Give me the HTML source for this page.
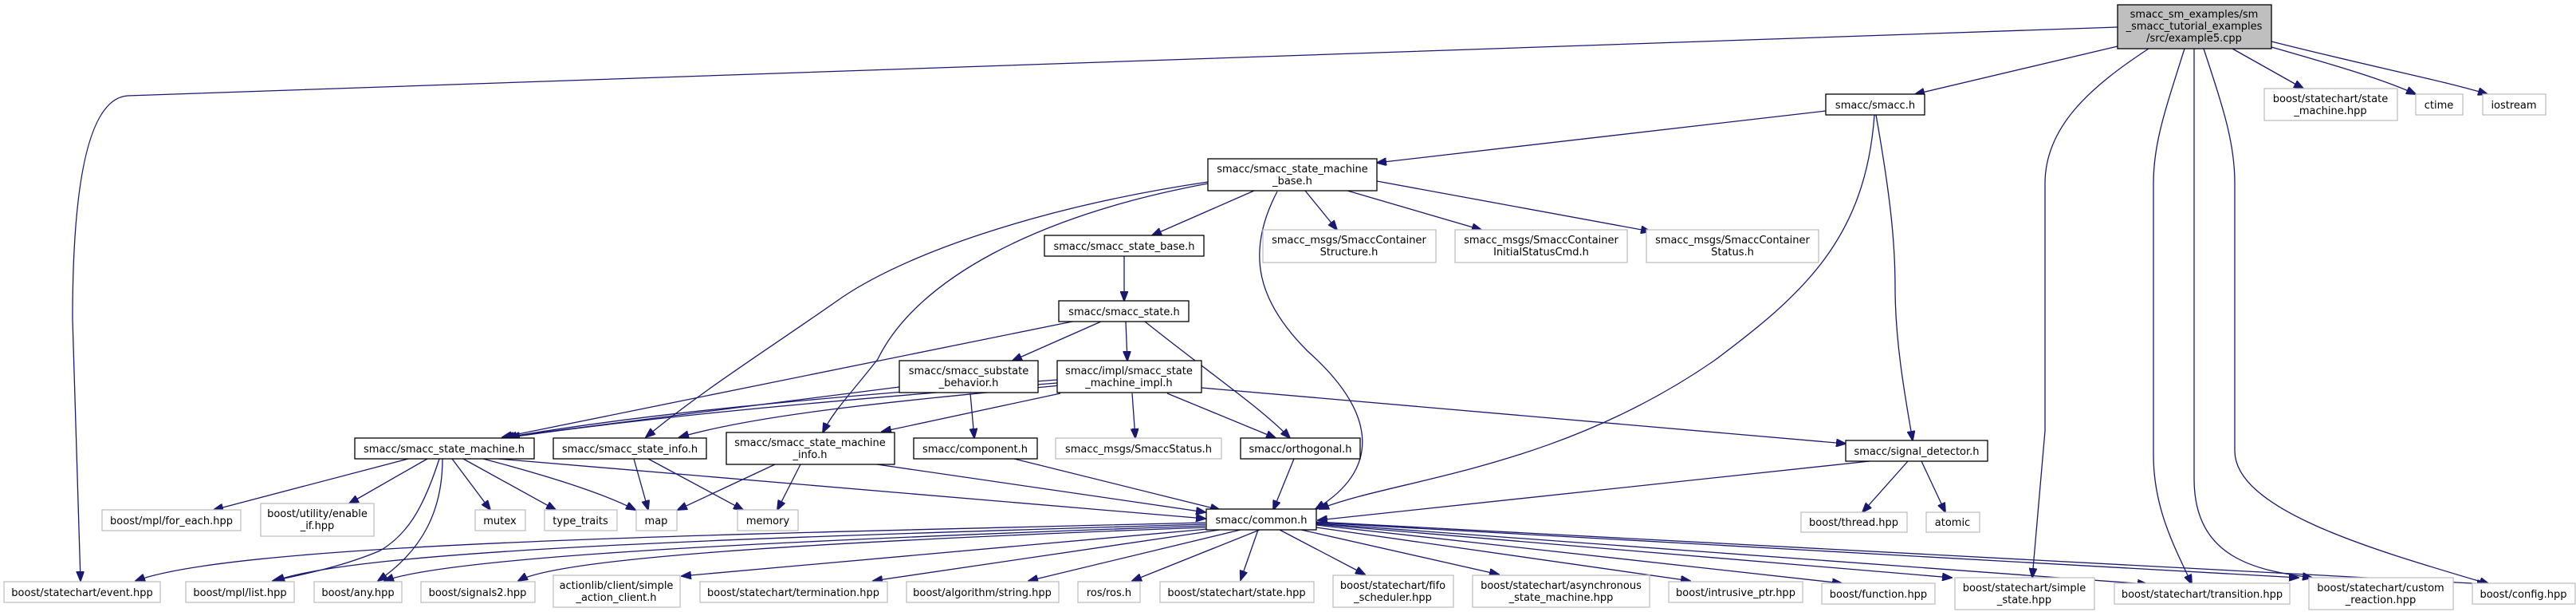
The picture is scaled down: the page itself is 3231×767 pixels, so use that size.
<!DOCTYPE html>
<html><head><meta charset="utf-8"><style>
html,body{margin:0;padding:0;background:#fff;}
svg{display:block}
text{font-family:"DejaVu Sans","Liberation Sans",sans-serif;font-size:13px;fill:#000;}
</style></head><body>
<svg width="3231" height="767" viewBox="0 0 3231 767" xmlns="http://www.w3.org/2000/svg">
<defs>
<marker id="a" markerWidth="13" markerHeight="10" refX="12" refY="5" orient="auto" markerUnits="userSpaceOnUse">
<path d="M0,0 L13,5 L0,10 z" fill="#191970" stroke="#191970"/>
</marker>
</defs>
<g fill="none" stroke="#191970" stroke-width="1.3" marker-end="url(#a)">
<!-- root -->
<path d="M2656,34 L160,120 Q91,125 91,400 L101,728"/>
<path d="M2656,58 L2402,118"/>
<path d="M2695,61 C2620,110 2565,160 2565,230 L2565,540 L2549,724"/>
<path d="M2740,61 C2715,140 2701,180 2701,230 L2701,570 C2701,640 2730,690 2749,732"/>
<path d="M2752,61 L2752,600 C2752,700 2830,715 2900,724"/>
<path d="M2764,61 C2790,140 2803,180 2803,230 L2803,565 C2803,640 2980,690 3122,732"/>
<path d="M2800,61 L2889,111"/>
<path d="M2849,59 C2940,85 2990,100 3030,118"/>
<path d="M2849,52 C2980,85 3060,100 3120,118"/>
<!-- smacc.h -->
<path d="M2290,139 L1727,204"/>
<path d="M2351,144 C2340,300 2260,370 2150,452 C1950,590 1750,600 1655,638"/>
<path d="M2353,144 C2370,240 2377,300 2377,360 C2377,430 2390,500 2399,552"/>
<!-- signal_detector -->
<path d="M2345,578 L1653,652"/>
<path d="M2393,578 L2336,642"/>
<path d="M2410,578 L2440,642"/>
<!-- state_machine_base -->
<path d="M1573,239 L1445,295"/>
<path d="M1637,239 L1677,288"/>
<path d="M1690,239 L1858,288"/>
<path d="M1727,227 L2070,290"/>
<path d="M1602,240 C1560,320 1580,380 1640,440 C1730,520 1730,590 1650,638"/>
<path d="M1515,228 C1300,260 1130,320 1050,377 C960,440 880,490 810,548"/>
<path d="M1515,230 C1300,270 1150,350 1101,450 C1070,490 1045,515 1032,542"/>
<!-- state_base -->
<path d="M1410,321 L1410,377"/>
<!-- smacc_state -->
<path d="M1345,403 L630,548"/>
<path d="M1381,403 L1270,452"/>
<path d="M1412,403 L1414,452"/>
<path d="M1436,403 C1520,470 1580,510 1618,549"/>
<!-- substate -->
<path d="M1128,485 L632,548"/>
<path d="M1217,493 L1222,549"/>
<!-- impl -->
<path d="M1326,476 C1000,500 800,520 636,548"/>
<path d="M1326,480 C1000,505 800,525 640,548"/>
<path d="M1330,483 C1100,505 950,520 852,548"/>
<path d="M1330,493 L1106,541"/>
<path d="M1420,493 L1424,549"/>
<path d="M1464,493 L1600,549"/>
<path d="M1507,486 L2315,556"/>
<!-- state_machine.h -->
<path d="M512,575 L268,639"/>
<path d="M536,575 L438,631"/>
<path d="M551,575 C530,640 510,670 477,690 C430,710 380,720 342,728"/>
<path d="M555,575 C555,640 530,690 474,728"/>
<path d="M567,575 L615,639"/>
<path d="M581,575 L697,639"/>
<path d="M606,575 C700,600 760,620 797,639"/>
<path d="M625,575 L1512,650"/>
<!-- state_info -->
<path d="M795,575 L813,639"/>
<path d="M813,575 L932,639"/>
<!-- state_machine_info -->
<path d="M972,582 L850,639"/>
<path d="M1004,582 L975,639"/>
<path d="M1100,582 L1512,642"/>
<!-- component / orthogonal -->
<path d="M1272,575 L1530,639"/>
<path d="M1623,575 L1597,639"/>
<!-- common.h -> bottom -->
<path d="M1512,655 C900,670 300,680 170,728"/>
<path d="M1512,657 C900,675 450,690 345,728"/>
<path d="M1512,659 C900,680 560,700 482,728"/>
<path d="M1512,661 C1000,680 700,700 650,728"/>
<path d="M1515,663 L855,722"/>
<path d="M1530,664 L1095,728"/>
<path d="M1556,664 L1290,728"/>
<path d="M1580,664 L1420,728"/>
<path d="M1578,664 L1556,727"/>
<path d="M1605,664 L1712,720"/>
<path d="M1632,664 L1880,720"/>
<path d="M1651,661 L2120,728"/>
<path d="M1651,658 L2310,731"/>
<path d="M1651,657 L2448,724"/>
<path d="M1651,656 L2693,732"/>
<path d="M1651,655 L2883,724"/>
<path d="M1651,654 L3119,732"/>
</g>
<g stroke-width="1.3">
<!-- node boxes -->
<rect x="2656" y="6" width="193" height="55" fill="#bfbfbf" stroke="#000"/>
<g fill="#fff" stroke="#000">
<rect x="2290" y="118" width="124" height="26"/>
<rect x="1515" y="199" width="212" height="40"/>
<rect x="1310" y="295" width="200" height="26"/>
<rect x="1328" y="377" width="163" height="26"/>
<rect x="1128" y="452" width="174" height="40"/>
<rect x="1326" y="452" width="181" height="40"/>
<rect x="2315" y="552" width="178" height="26"/>
<rect x="445" y="549" width="225" height="26"/>
<rect x="694" y="549" width="192" height="26"/>
<rect x="911" y="542" width="211" height="40"/>
<rect x="1146" y="549" width="155" height="26"/>
<rect x="1556" y="549" width="150" height="26"/>
<rect x="1513" y="638" width="138" height="26"/>
</g>
<g fill="#fff" stroke="#bfbfbf">
<rect x="2840" y="111" width="167" height="40"/>
<rect x="3030" y="118" width="59" height="26"/>
<rect x="3114" y="118" width="79" height="26"/>
<rect x="1584" y="288" width="217" height="41"/>
<rect x="1825" y="288" width="216" height="41"/>
<rect x="2065" y="288" width="216" height="41"/>
<rect x="1324" y="549" width="208" height="26"/>
<rect x="2259" y="642" width="133" height="25"/>
<rect x="2416" y="642" width="67" height="25"/>
<rect x="128" y="639" width="174" height="26"/>
<rect x="327" y="631" width="142" height="41"/>
<rect x="596" y="639" width="63" height="26"/>
<rect x="683" y="639" width="91" height="26"/>
<rect x="798" y="639" width="51" height="26"/>
<rect x="925" y="639" width="76" height="26"/>
<rect x="5" y="729" width="196" height="26"/>
<rect x="233" y="729" width="136" height="26"/>
<rect x="394" y="729" width="110" height="26"/>
<rect x="528" y="729" width="143" height="26"/>
<rect x="694" y="721" width="159" height="40"/>
<rect x="878" y="729" width="235" height="26"/>
<rect x="1137" y="729" width="191" height="26"/>
<rect x="1352" y="729" width="78" height="26"/>
<rect x="1455" y="729" width="193" height="26"/>
<rect x="1672" y="721" width="151" height="40"/>
<rect x="1847" y="721" width="222" height="40"/>
<rect x="2093" y="729" width="168" height="26"/>
<rect x="2285" y="731" width="142" height="26"/>
<rect x="2452" y="724" width="175" height="40"/>
<rect x="2652" y="731" width="220" height="26"/>
<rect x="2896" y="724" width="181" height="40"/>
<rect x="3101" y="731" width="129" height="26"/>
</g>
</g>
<g text-anchor="middle">
<text x="2752" y="22">smacc_sm_examples/sm</text>
<text x="2752" y="37">_smacc_tutorial_examples</text>
<text x="2752" y="52">/src/example5.cpp</text>
<text x="2352" y="136">smacc/smacc.h</text>
<text x="1621" y="216">smacc/smacc_state_machine</text>
<text x="1621" y="231">_base.h</text>
<text x="1410" y="313">smacc/smacc_state_base.h</text>
<text x="1410" y="395">smacc/smacc_state.h</text>
<text x="1215" y="469">smacc/smacc_substate</text>
<text x="1215" y="484">_behavior.h</text>
<text x="1416" y="469">smacc/impl/smacc_state</text>
<text x="1416" y="484">_machine_impl.h</text>
<text x="2404" y="570">smacc/signal_detector.h</text>
<text x="557" y="567">smacc/smacc_state_machine.h</text>
<text x="790" y="567">smacc/smacc_state_info.h</text>
<text x="1016" y="559">smacc/smacc_state_machine</text>
<text x="1016" y="574">_info.h</text>
<text x="1223" y="567">smacc/component.h</text>
<text x="1631" y="567">smacc/orthogonal.h</text>
<text x="1582" y="656">smacc/common.h</text>
<text x="2923" y="128">boost/statechart/state</text>
<text x="2923" y="143">_machine.hpp</text>
<text x="3059" y="136">ctime</text>
<text x="3153" y="136">iostream</text>
<text x="1692" y="305">smacc_msgs/SmaccContainer</text>
<text x="1692" y="320">Structure.h</text>
<text x="1933" y="305">smacc_msgs/SmaccContainer</text>
<text x="1933" y="320">InitialStatusCmd.h</text>
<text x="2173" y="305">smacc_msgs/SmaccContainer</text>
<text x="2173" y="320">Status.h</text>
<text x="1428" y="567">smacc_msgs/SmaccStatus.h</text>
<text x="2325" y="659">boost/thread.hpp</text>
<text x="2449" y="659">atomic</text>
<text x="215" y="657">boost/mpl/for_each.hpp</text>
<text x="398" y="648">boost/utility/enable</text>
<text x="398" y="663">_if.hpp</text>
<text x="627" y="657">mutex</text>
<text x="728" y="657">type_traits</text>
<text x="823" y="657">map</text>
<text x="963" y="657">memory</text>
<text x="103" y="747">boost/statechart/event.hpp</text>
<text x="301" y="747">boost/mpl/list.hpp</text>
<text x="449" y="747">boost/any.hpp</text>
<text x="599" y="747">boost/signals2.hpp</text>
<text x="773" y="738">actionlib/client/simple</text>
<text x="773" y="753">_action_client.h</text>
<text x="995" y="747">boost/statechart/termination.hpp</text>
<text x="1232" y="747">boost/algorithm/string.hpp</text>
<text x="1391" y="747">ros/ros.h</text>
<text x="1551" y="747">boost/statechart/state.hpp</text>
<text x="1747" y="738">boost/statechart/fifo</text>
<text x="1747" y="753">_scheduler.hpp</text>
<text x="1958" y="738">boost/statechart/asynchronous</text>
<text x="1958" y="753">_state_machine.hpp</text>
<text x="2177" y="747">boost/intrusive_ptr.hpp</text>
<text x="2356" y="749">boost/function.hpp</text>
<text x="2539" y="741">boost/statechart/simple</text>
<text x="2539" y="756">_state.hpp</text>
<text x="2762" y="749">boost/statechart/transition.hpp</text>
<text x="2986" y="741">boost/statechart/custom</text>
<text x="2986" y="756">_reaction.hpp</text>
<text x="3165" y="749">boost/config.hpp</text>
</g>
</svg>
</body></html>
